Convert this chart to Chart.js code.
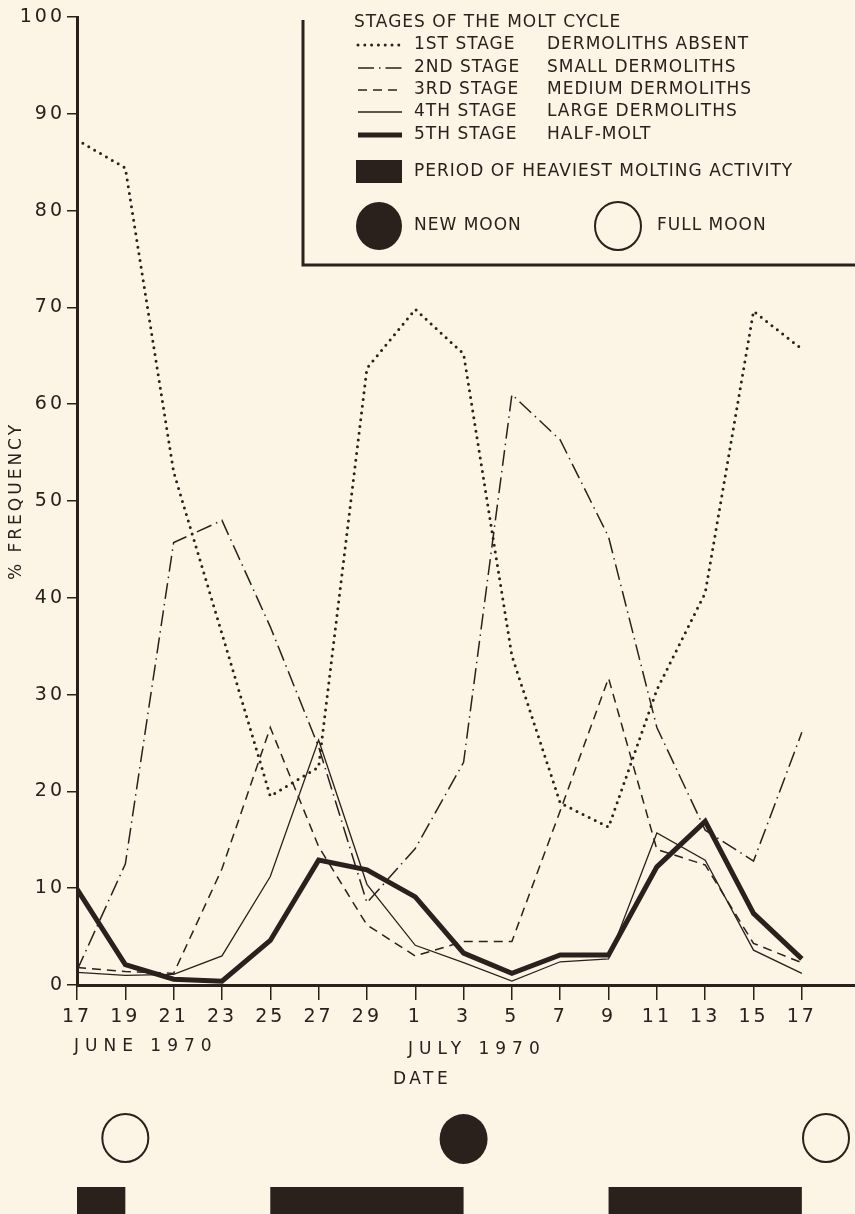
<!DOCTYPE html>
<html>
<head>
<meta charset="utf-8">
<script src="https://cdn.jsdelivr.net/npm/chart.js@4"></script>
<style>
  html, body { margin: 0; padding: 0; background: #fcf4e5; }
  canvas { display: block; }
</style>
</head>
<body>
<canvas id="chartCanvas" width="855" height="1214"></canvas>
<script>
// days counted from 17 June 1970 (day 0) to 17 July 1970 (day 30)
const sampleDays = [0, 2, 4, 6, 8, 10, 12, 14, 16, 18, 20, 22, 24, 26, 28, 30];
const tickLabels = ["17", "19", "21", "23", "25", "27", "29", "1", "3", "5", "7", "9", "11", "13", "15", "17"];

const stage1 = [87.3, 84.4, 53.0, 36.3, 19.5, 22.5, 63.7, 69.8, 65.2, 34.0, 18.8, 16.3, 30.5, 40.5, 69.6, 65.7];
const stage2 = [1.5, 12.5, 45.7, 48.0, 37.0, 24.6, 8.5, 14.1, 23.0, 61.0, 56.3, 46.3, 26.6, 16.0, 12.8, 26.1];
const stage3 = [1.8, 1.4, 1.2, 12.0, 26.6, 14.3, 6.2, 3.0, 4.5, 4.5, 18.0, 31.7, 14.0, 12.4, 4.3, 2.3];
const stage4 = [1.3, 1.0, 1.1, 3.0, 11.2, 25.3, 10.4, 4.1, 2.3, 0.4, 2.4, 2.7, 15.7, 12.9, 3.6, 1.2];
const stage5 = [9.9, 2.1, 0.6, 0.4, 4.6, 12.9, 11.9, 9.1, 3.3, 1.2, 3.1, 3.1, 12.2, 16.9, 7.4, 2.7];

const fullMoonDays = [2, 31];
const newMoonDays = [16];
const moltStart = [0, 8, 22];
const moltEnd = [2, 16, 30];

const INK = "#2a201c";
const FONT = "'DejaVu Sans', sans-serif";

function pts(arr) {
  return arr.map((v, i) => ({ x: sampleDays[i], y: v }));
}

function text(ctx, str, x, y, size, spacing, align) {
  ctx.save();
  ctx.font = size + "px " + FONT;
  ctx.letterSpacing = spacing + "px";
  ctx.fillStyle = INK;
  ctx.textAlign = align || "left";
  ctx.textBaseline = "middle";
  ctx.fillText(str, x, y);
  ctx.restore();
}

const extras = {
  id: "extras",
  beforeDraw(chart) {
    const ctx = chart.ctx;
    ctx.save();
    ctx.fillStyle = "#fcf4e5";
    ctx.fillRect(0, 0, chart.width, chart.height);
    ctx.restore();
    ctx.letterSpacing = "3px";
  },
  afterDraw(chart) {
    const ctx = chart.ctx;
    const xs = chart.scales.x;
    ctx.letterSpacing = "0px";

    // date captions
    text(ctx, "JUNE 1970", 74, 1047, 17, 6);
    text(ctx, "JULY 1970", 408, 1050, 17, 6);
    text(ctx, "DATE", 393, 1080, 17, 3.5);

    // moons
    ctx.save();
    ctx.strokeStyle = INK;
    ctx.fillStyle = INK;
    ctx.lineWidth = 2;
    fullMoonDays.forEach(d => {
      ctx.beginPath();
      ctx.ellipse(xs.getPixelForValue(d), 1138, 23, 24, 0, 0, Math.PI * 2);
      ctx.stroke();
    });
    newMoonDays.forEach(d => {
      ctx.beginPath();
      ctx.ellipse(xs.getPixelForValue(d), 1139, 24, 25, 0, 0, Math.PI * 2);
      ctx.fill();
    });
    // periods of heaviest molting
    moltStart.forEach((s, i) => {
      const x0 = xs.getPixelForValue(s);
      const x1 = xs.getPixelForValue(moltEnd[i]);
      ctx.fillRect(x0, 1187, x1 - x0, 30);
    });
    ctx.restore();

    // legend box
    ctx.save();
    ctx.strokeStyle = INK;
    ctx.lineWidth = 3;
    ctx.beginPath();
    ctx.moveTo(303, 20);
    ctx.lineTo(303, 265);
    ctx.lineTo(855, 265);
    ctx.stroke();
    ctx.restore();

    text(ctx, "STAGES OF THE MOLT CYCLE", 354, 23, 17, 1);
    const rows = [
      ["1ST STAGE", "DERMOLITHS ABSENT"],
      ["2ND STAGE", "SMALL DERMOLITHS"],
      ["3RD STAGE", "MEDIUM DERMOLITHS"],
      ["4TH STAGE", "LARGE DERMOLITHS"],
      ["5TH STAGE", "HALF-MOLT"]
    ];
    const rowY = [45, 68, 90, 112, 135];
    chart.data.datasets.forEach((ds, i) => {
      ctx.save();
      ctx.strokeStyle = INK;
      ctx.lineWidth = ds.borderWidth;
      ctx.lineCap = ds.borderCapStyle || "butt";
      ctx.setLineDash(ds.borderDash || []);
      ctx.beginPath();
      ctx.moveTo(358, rowY[i]);
      ctx.lineTo(402, rowY[i]);
      ctx.stroke();
      ctx.restore();
      text(ctx, rows[i][0], 414, rowY[i], 17, 1);
      text(ctx, rows[i][1], 547, rowY[i], 17, 1);
    });
    ctx.save();
    ctx.fillStyle = INK;
    ctx.fillRect(356, 160, 46, 23);
    ctx.beginPath();
    ctx.ellipse(379, 226, 23, 24, 0, 0, Math.PI * 2);
    ctx.fill();
    ctx.strokeStyle = INK;
    ctx.lineWidth = 2;
    ctx.beginPath();
    ctx.ellipse(618, 226, 23, 24, 0, 0, Math.PI * 2);
    ctx.stroke();
    ctx.restore();
    text(ctx, "PERIOD OF HEAVIEST MOLTING ACTIVITY", 414, 172, 17, 1);
    text(ctx, "NEW MOON", 414, 226, 17, 1);
    text(ctx, "FULL MOON", 657, 226, 17, 1);
  }
};

const ctx = document.getElementById("chartCanvas").getContext("2d");
new Chart(ctx, {
  type: "line",
  data: {
    datasets: [
      { label: "1st stage", data: pts(stage1), borderColor: INK, borderWidth: 3,
        borderDash: [0, 6.8], borderCapStyle: "round" },
      { label: "2nd stage", data: pts(stage2), borderColor: INK, borderWidth: 1.5,
        borderDash: [16, 5, 1.5, 5] },
      { label: "3rd stage", data: pts(stage3), borderColor: INK, borderWidth: 1.5,
        borderDash: [9, 6] },
      { label: "4th stage", data: pts(stage4), borderColor: INK, borderWidth: 1.3 },
      { label: "5th stage", data: pts(stage5), borderColor: INK, borderWidth: 5,
        borderJoinStyle: "miter" }
    ]
  },
  options: {
    responsive: false,
    animation: false,
    elements: { point: { radius: 0 }, line: { tension: 0 } },
    layout: { padding: { top: 17, left: 0, right: 0, bottom: 0 } },
    plugins: { legend: { display: false }, tooltip: { enabled: false } },
    scales: {
      x: {
        type: "linear",
        min: 0,
        max: 32.2,
        afterBuildTicks: s => { s.ticks = sampleDays.map(v => ({ value: v })); },
        afterFit: s => { s.height = 229; },
        border: { display: true, color: INK, width: 3 },
        grid: { drawOnChartArea: false, color: INK, lineWidth: 1.5, tickLength: 15 },
        ticks: {
          color: INK,
          font: { family: FONT, size: 19 },
          padding: 6,
          maxRotation: 0,
          autoSkip: false,
          callback: v => tickLabels[sampleDays.indexOf(v)]
        }
      },
      y: {
        min: 0,
        max: 100,
        afterFit: s => { s.width = 77; },
        border: { display: true, color: INK, width: 3 },
        grid: { drawOnChartArea: false, color: INK, lineWidth: 1.5, tickLength: 10 },
        ticks: { stepSize: 10, color: INK, font: { family: FONT, size: 19 }, padding: 2 },
        title: {
          display: true,
          text: "% FREQUENCY",
          color: INK,
          font: { family: FONT, size: 17 },
          padding: { top: 6, bottom: 0 }
        }
      }
    }
  },
  plugins: [extras]
});
</script>
</body>
</html>
